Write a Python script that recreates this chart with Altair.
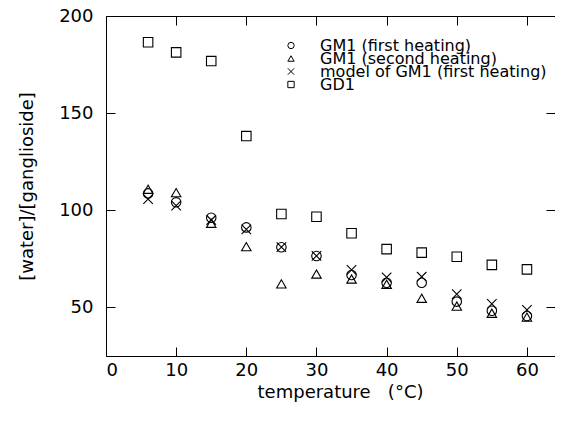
import altair as alt
import pandas as pd

temps = [6, 10, 15, 20, 25, 30, 35, 40, 45, 50, 55, 60]
gm1_first = [108.7, 104.1, 96.2, 91.2, 81.0, 76.5, 66.7, 62.7, 62.7, 53.0, 48.3, 45.6]
gm1_second = [110.8, 109.1, 93.3, 81.3, 62.1, 67.2, 64.6, 61.9, 54.7, 50.7, 47.0, 45.0]
model_gm1 = [105.7, 102.4, 95.0, 90.2, 81.0, 76.5, 69.3, 65.5, 65.8, 56.9, 51.8, 48.7]
gd1 = [186.5, 181.3, 176.8, 138.2, 98.1, 96.7, 88.2, 80.0, 78.2, 76.1, 71.9, 69.6]

series_names = ["GM1 (first heating)", "GM1 (second heating)",
                "model of GM1 (first heating)", "GD1"]
series_values = [gm1_first, gm1_second, model_gm1, gd1]
shapes = ["circle", "triangle-up", "M-1,-1L1,1M-1,1L1,-1", "square"]

x_ticks = [0, 10, 20, 30, 40, 50, 60]
y_ticks = [50, 100, 150, 200]

rows = []
for name, vals in zip(series_names, series_values):
    for t, v in zip(temps, vals):
        rows.append({"temperature": t, "ratio": v, "series": name})
df = pd.DataFrame(rows)

FONT = "DejaVu Sans"
xscale = alt.Scale(domain=[0, 64], nice=False, zero=False)
yscale = alt.Scale(domain=[25, 200], nice=False, zero=False)

points = alt.Chart(df).mark_point(
    filled=False, color="black", strokeWidth=1.1, size=90, opacity=1
).encode(
    x=alt.X("temperature:Q", scale=xscale,
            axis=alt.Axis(orient="bottom", values=x_ticks, offset=-9, tickSize=9,
                          domain=False, grid=False, labelPadding=5,
                          title="temperature\u00a0\u00a0\u00a0(°C)", titlePadding=4,
                          titleX=234)),
    y=alt.Y("ratio:Q", scale=yscale,
            axis=alt.Axis(orient="left", values=y_ticks, offset=-9, tickSize=9,
                          domain=False, grid=False, labelPadding=13,
                          title="[water]/[ganglioside]", titlePadding=22)),
    shape=alt.Shape("series:N",
                    scale=alt.Scale(domain=series_names, range=shapes),
                    sort=series_names,
                    legend=alt.Legend(title=None, orient="none", legendX=177, legendY=25,
                                      labelFontSize=16, labelFont=FONT, labelColor="black",
                                      labelLimit=400, symbolSize=40,
                                      symbolStrokeColor="black", symbolFillColor="transparent",
                                      symbolStrokeWidth=1, labelOffset=21, rowPadding=-6,
                                      clipHeight=9, padding=0)),
)

mirror = alt.Chart(df).mark_point(opacity=0).encode(
    x=alt.X("temperature:Q", scale=xscale,
            axis=alt.Axis(orient="top", values=x_ticks, offset=-9, tickSize=9,
                          domain=False, grid=False, labels=False, title=None)),
    y=alt.Y("ratio:Q", scale=yscale,
            axis=alt.Axis(orient="right", values=y_ticks, offset=-9, tickSize=9,
                          domain=False, grid=False, labels=False, title=None)),
)

chart = alt.layer(points, mirror).resolve_axis(
    x="independent", y="independent"
).properties(
    width=449, height=340,
    padding={"left": 98, "top": 8, "right": 0, "bottom": 62},
    autosize=alt.AutoSizeParams(type="none"),
).configure_view(
    stroke="black", strokeWidth=1
).configure_axis(
    labelFont=FONT, titleFont=FONT, labelFontSize=18, titleFontSize=18,
    labelColor="black", titleColor="black", tickColor="black", tickWidth=1,
    titleFontWeight="normal"
)

chart.save("out.html", embed_options={"renderer": "svg", "actions": False})
